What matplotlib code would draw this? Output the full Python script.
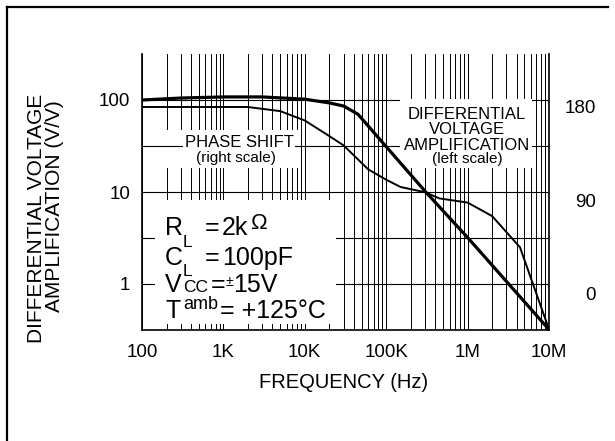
import matplotlib
matplotlib.use("Agg")
import matplotlib.pyplot as plt
import matplotlib.transforms as mtransforms
from matplotlib.patches import Rectangle
from matplotlib.lines import Line2D
import numpy as np

plt.rcParams['font.family'] = ['Liberation Sans', 'DejaVu Sans']

# data
amp_freq = [100, 300, 1e3, 3e3, 1e4, 2e4, 3e4, 4.5e4, 3e5, 1e6, 1e7]
amp_gain = [100, 105, 108, 108, 102, 93, 86, 70, 10.2, 3.2, 0.32]

phase_freq = [100, 2e3, 5e3, 1e4, 2e4, 3e4, 6e4, 1e5, 1.5e5, 3e5, 4.5e5, 1e6, 2e6, 4.4e6, 1e7]
phase_deg = [180, 180, 176, 167, 152, 143, 120, 110, 103, 98, 92, 88, 75, 45, -34]

x_ticks = [100, 1e3, 1e4, 1e5, 1e6, 1e7]
x_labels = ['100', '1K', '10K', '100K', '1M', '10M']
y_ticks = [1, 10, 100]
y_labels = ['1', '10', '100']
p_ticks = [0, 90, 180]
p_labels = ['0', '90', '180']

W, H = 615, 441
fig = plt.figure(figsize=(W / 100, H / 100), dpi=100)
# axes box in pixels: x 142..549, y 54..330
ax = fig.add_axes([142 / W, 1 - 330 / H, (549 - 142) / W, (330 - 54) / H])
tr = mtransforms.Affine2D().scale(1 / W, -1 / H).translate(0, 1) + fig.transFigure

ax.set_xscale('log')
ax.set_yscale('log')
ax.set_xlim(100, 1e7)
ax.set_ylim(10 ** -0.5, 10 ** 2.5)

# grid drawn by hand so the white label boxes can sit between layers
vlines = [m * 10 ** k for k in range(2, 7) for m in range(1, 10)] + [1e7]
for f in vlines:
    ax.axvline(f, color='black', lw=0.7, zorder=1.0)
for lv in [1, 10 ** 0.5, 10, 10 ** 1.5, 100]:
    ax.axhline(lv, color='black', lw=0.8, zorder=1.2)

# white areas behind the labels
ax.add_patch(Rectangle((160, 168), 140, -38, transform=tr, fc='white', ec='none', zorder=1.1, clip_on=False))
ax.add_patch(Rectangle((400, 168), 132, -69, transform=tr, fc='white', ec='none', zorder=1.3, clip_on=False))
ax.add_patch(Rectangle((155, 324), 181, -124, transform=tr, fc='white', ec='none', zorder=1.3, clip_on=False))

ax.plot(amp_freq, amp_gain, color='black', lw=2.3, zorder=4, solid_joinstyle='round')

ax.set_xticks(x_ticks, x_labels)
ax.set_yticks(y_ticks, y_labels)
ax.minorticks_off()
ax.tick_params(axis='both', length=0, labelsize=13.5)
ax.tick_params(axis='y', pad=8.5)
ax.tick_params(axis='x', pad=10)
ax.spines['top'].set_visible(False)
for s in ['left', 'bottom', 'right']:
    ax.spines[s].set_linewidth(1.2)
    ax.spines[s].set_zorder(5)

ax2 = ax.twinx()
ax2.set_ylim(-34.65, 231.0)
ax2.plot(phase_freq, phase_deg, color='black', lw=1.4, zorder=4, solid_joinstyle='round')
ax2.set_yticks(p_ticks, p_labels)
ax2.tick_params(axis='y', length=0, labelsize=13.5, pad=34)
for lab in ax2.get_yticklabels():
    lab.set_horizontalalignment('right')
for s in ax2.spines.values():
    s.set_visible(False)

# axis titles
fig.text(37 / W, 1 - 218 / H, 'DIFFERENTIAL VOLTAGE', rotation=90, ha='center', va='center', fontsize=15)
fig.text(55 / W, 1 - 206 / H, 'AMPLIFICATION (V/V)', rotation=90, ha='center', va='center', fontsize=15)
fig.text(344 / W, 1 - 382 / H, 'FREQUENCY (Hz)', ha='center', va='center', fontsize=14.5)

# curve labels
tb = dict(fc='white', ec='none', pad=1)
ax.text(239, 146.7, 'PHASE SHIFT', transform=tr, ha='center', va='baseline', fontsize=12, zorder=1.25, bbox=tb)
ax.text(236, 162, '(right scale)', transform=tr, ha='center', va='baseline', fontsize=11, zorder=1.25)
for txt, yb, fs in [('DIFFERENTIAL', 119.3, 12), ('VOLTAGE', 134.3, 12),
                    ('AMPLIFICATION', 150, 12), ('(left scale)', 163, 11)]:
    ax.text(467, yb, txt, transform=tr, ha='center', va='baseline', fontsize=fs, zorder=1.35)

# test conditions
big, small = 18, 12.5
def put(x, y, s, fs):
    ax.text(x, y, s, transform=tr, ha='left', va='baseline', fontsize=fs, zorder=1.4)

put(165, 235, 'R', big)
put(183, 247, 'L', small)
put(205, 235, '=', big)
put(222, 235, '2k', big)
put(251, 229, '\u03a9', 16)

put(165, 265, 'C', big)
put(183, 276, 'L', small)
put(205, 265, '=', big)
put(222, 265, '100pF', big)

put(165, 292, 'V', big)
put(183, 292, 'CC', small)
put(211, 292, '=', big)
put(226, 286, '\u00b1', 10)
put(233, 292, '15V', big)

put(165, 318, 'T', big)
put(183, 309, 'amb', 13)
put(220, 318, '= +125\u00b0C', big)

# frame around the figure
fig.add_artist(Line2D([7 / W, 7 / W], [0, 1 - 7 / H], transform=fig.transFigure, color='black', lw=1.6))
fig.add_artist(Line2D([7 / W, 608 / W], [1 - 7 / H, 1 - 7 / H], transform=fig.transFigure, color='black', lw=1.6))

fig.savefig('out.png', dpi=100)
